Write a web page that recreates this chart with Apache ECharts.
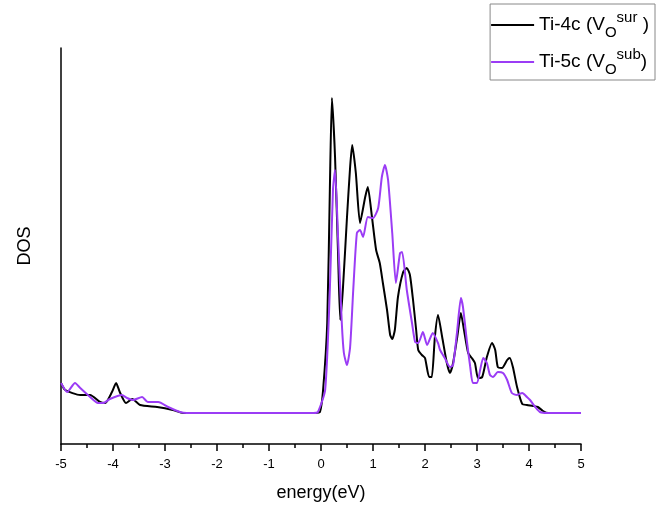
<!DOCTYPE html>
<html>
<head>
<meta charset="utf-8">
<script src="https://cdn.jsdelivr.net/npm/echarts@6/dist/echarts.min.js"></script>
<style>html,body{margin:0;padding:0;background:#fff}#c{width:659px;height:508px}</style>
</head>
<body>
<div id="c"></div>
<script>
// Ti-4c (V_O sur) — black
var energyBlack = [-5.0,-4.92,-4.63,-4.44,-4.25,-4.15,-4.02,-3.94,-3.87,-3.75,-3.63,-3.48,-3.15,-2.85,-2.65,-0.12,
  -0.02,0.04,0.12,0.17,0.21,0.27,0.33,0.37,0.42,0.50,0.56,0.60,0.67,0.75,0.85,0.90,0.98,1.06,1.13,1.19,1.27,1.33,1.37,1.42,1.48,1.58,1.65,1.71,1.77,1.83,1.87,1.94,2.00,2.08,2.13,2.19,2.25,2.33,2.42,2.48,2.54,2.62,2.69,2.75,2.83,2.90,2.96,3.02,3.10,3.19,3.29,3.35,3.40,3.48,3.58,3.63,3.69,3.77,3.87,3.96,4.08,4.17,4.27,4.37,5.0];
var dosBlack = [30,23,18,18,11,10,21,30,21,10,14,8,6,3,0,0,
  1,23,90,223,315,256,156,93,123,196,246,268,240,190,216,226,196,163,150,130,103,78,74,83,116,141,145,138,113,83,63,58,55,36,36,76,98,76,50,40,50,76,100,83,60,55,50,35,36,56,70,63,46,45,53,55,46,26,9,8,7,6,2,0,0];
// Ti-5c (V_O sub) — purple
var energyPurple = [-5.0,-4.88,-4.73,-4.63,-4.44,-4.29,-4.19,-4.06,-3.83,-3.73,-3.62,-3.44,-3.33,-3.13,-2.94,-2.71,-2.58,-0.15,
  -0.06,0.08,0.17,0.23,0.27,0.33,0.40,0.44,0.50,0.56,0.62,0.69,0.75,0.81,0.90,1.00,1.10,1.17,1.23,1.29,1.37,1.44,1.52,1.56,1.65,1.75,1.81,1.87,1.96,2.04,2.15,2.25,2.29,2.38,2.48,2.54,2.62,2.69,2.73,2.81,2.87,2.92,3.00,3.06,3.12,3.19,3.25,3.31,3.40,3.50,3.58,3.67,3.77,3.87,3.96,4.02,4.12,4.21,4.35,5.0];
var dosPurple = [30,21,30,25,16,10,10,14,18,15,13,16,11,11,6,1,0,0,
  1,23,123,223,243,173,90,60,48,66,123,180,183,176,196,195,205,236,248,233,180,130,160,161,123,90,71,70,81,68,80,70,63,55,46,48,83,115,106,70,46,30,30,43,55,50,38,36,41,40,33,20,18,20,16,13,6,1,0,0];
var xTicks = [-5,-4,-3,-2,-1,0,1,2,3,4,5];

function pairs(xs, ys){ return xs.map(function(x,i){return [x, ys[i]];}); }
var FONT = '"Liberation Sans", Arial, sans-serif';
var chart = echarts.init(document.getElementById('c'), null, {renderer:'canvas'});
chart.setOption({
  animation:false,
  backgroundColor:'#fff',
  textStyle:{fontFamily:FONT},
  grid:{left:61, right:78, top:48, bottom:64, containLabel:false},
  legend:{
    orient:'vertical', right:4, top:4,
    borderColor:'#888', borderWidth:1, backgroundColor:'#fff',
    padding:[6,6,3,1], itemWidth:43, itemHeight:2, itemGap:7,
    icon:'rect',
    textStyle:{
      fontFamily:FONT, color:'#000', padding:[0,0,0,0],
      rich:{
        a:{fontSize:19, lineHeight:30, verticalAlign:'middle', fontFamily:FONT, color:'#000'},
        sub:{fontSize:15, lineHeight:12, verticalAlign:'bottom', fontFamily:FONT, color:'#000'},
        sup:{fontSize:15, lineHeight:12, verticalAlign:'top', fontFamily:FONT, color:'#000'}
      }
    },
    formatter:function(name){
      if(name==='Ti-4c') return '{a|Ti-4c (V}{sub|O}{sup|sur}{a| )}';
      return '{a|Ti-5c (V}{sub|O}{sup|sub}{a|)}';
    },
    data:['Ti-4c','Ti-5c']
  },
  xAxis:{
    type:'value', min:-5, max:5, interval:1,
    name:'energy(eV)', nameLocation:'middle', nameGap:40,
    nameTextStyle:{fontSize:18, color:'#000', fontFamily:FONT},
    axisLine:{onZero:false, lineStyle:{color:'#000', width:1.5}},
    axisTick:{show:true, length:7, lineStyle:{color:'#000', width:1.5}},
    minorTick:{show:true, splitNumber:2, length:4, lineStyle:{color:'#000', width:1.5}},
    axisLabel:{fontSize:13, color:'#000', margin:14, fontFamily:FONT,
      customValues:xTicks},
    splitLine:{show:false}
  },
  yAxis:{
    type:'value', min:-31, max:365,
    name:'DOS', nameLocation:'middle', nameGap:27, nameRotate:90,
    nameTextStyle:{fontSize:18, color:'#000', fontFamily:FONT},
    axisLine:{show:true, onZero:false, lineStyle:{color:'#000', width:1.5}},
    axisTick:{show:false}, axisLabel:{show:false}, splitLine:{show:false}
  },
  series:[
    {name:'Ti-4c', type:'line', symbol:'none', smooth:0.2, data:pairs(energyBlack,dosBlack),
     lineStyle:{color:'#000', width:2}, itemStyle:{color:'#000'}, z:2},
    {name:'Ti-5c', type:'line', symbol:'none', smooth:0.2, data:pairs(energyPurple,dosPurple),
     lineStyle:{color:'#9b3cf5', width:2}, itemStyle:{color:'#9b3cf5'}, z:3}
  ]
});
</script>
</body>
</html>
